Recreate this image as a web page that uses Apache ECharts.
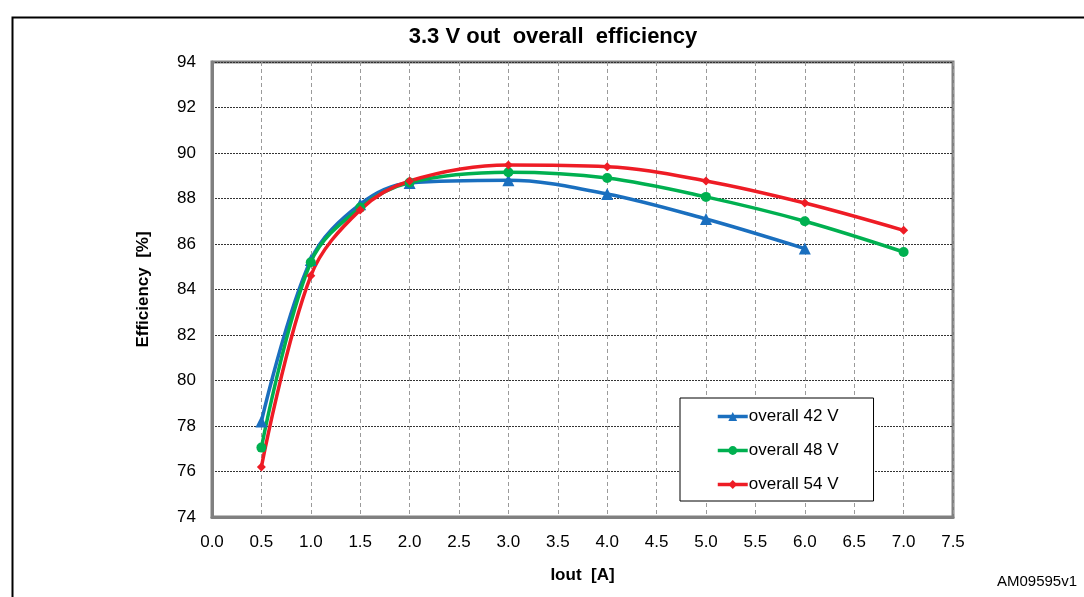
<!DOCTYPE html>
<html>
<head>
<meta charset="utf-8">
<script src="https://cdn.jsdelivr.net/npm/echarts@6/dist/echarts.min.js"></script>
<style>
html,body{margin:0;padding:0;background:#fff;}
#chart{width:1084px;height:597px;}
</style>
</head>
<body>
<div id="chart"></div>
<script>
const xTicks = [0.0,0.5,1.0,1.5,2.0,2.5,3.0,3.5,4.0,4.5,5.0,5.5,6.0,6.5,7.0,7.5];
const iout42 = [0.5,1.0,1.5,2.0,3.0,4.0,5.0,6.0];
const eff42  = [78.2,85.3,87.75,88.68,88.8,88.2,87.1,85.8];
const iout48 = [0.5,1.0,1.5,2.0,3.0,4.0,5.0,6.0,7.0];
const eff48  = [77.05,85.2,87.6,88.7,89.15,88.9,88.07,87.0,85.65];
const iout54 = [0.5,1.0,1.5,2.0,3.0,4.0,5.0,6.0,7.0];
const eff54  = [76.2,84.6,87.5,88.77,89.47,89.4,88.77,87.8,86.6];
const seriesNames = ['overall 42 V','overall 48 V','overall 54 V'];

const pair = (xs, ys) => xs.map((x, i) => [x, ys[i]]);
const font = 'Arial, "Liberation Sans", sans-serif';

const chart = echarts.init(document.getElementById('chart'), null, {renderer:'canvas'});
chart.setOption({
  animation: false,
  backgroundColor: '#fff',
  title: {
    text: '3.3 V out  overall  efficiency',
    left: 548, top: 21, textAlign: 'center',
    textStyle: {fontFamily: font, fontSize: 22, fontWeight: 'bold', color: '#000'}
  },
  graphic: [
    {type:'rect', left: 10, top: 15, shape:{width: 1090, height: 600}, style:{fill:'none', stroke:'#000', lineWidth: 2}, silent:true, z: -1},
    {type:'text', right: 7, top: 574, style:{text:'AM09595v1', font:'15px Arial, "Liberation Sans", sans-serif', fill:'#000'}}
  ],
  grid: {left: 212, right: 131, top: 62, bottom: 80, show: true, borderColor: '#808080', borderWidth: 3, backgroundColor:'transparent'},
  legend: {
    orient: 'vertical', left: 680, top: 398,
    data: seriesNames,
    backgroundColor: '#fff', borderColor: '#000', borderWidth: 1,
    padding: [10, 35, 8, 36], itemGap: 17, itemWidth: 30, itemHeight: 11,
    lineStyle: {width: 3.5},
    textStyle: {fontFamily: font, fontSize: 17, color: '#000', padding:[0,0,0,-4]}
  },
  xAxis: {
    type: 'value', min: 0, max: 7.5, interval: 0.5,
    name: 'Iout  [A]', nameLocation: 'middle', nameGap: 50,
    nameTextStyle: {fontFamily: font, fontSize: 17, fontWeight: 'bold', color: '#000'},
    axisLine: {show: true, onZero: false, lineStyle: {color: '#808080', width: 3}},
    axisTick: {show: false},
    axisLabel: {fontFamily: font, fontSize: 17, color: '#000', margin: 17, formatter: v => v.toFixed(1)},
    splitLine: {show: true, lineStyle: {color: '#9a9a9a', type: [4, 3], width: 1}}
  },
  yAxis: {
    type: 'value', min: 74, max: 94, interval: 2,
    name: 'Efficiency  [%]', nameLocation: 'middle', nameGap: 60,
    nameTextStyle: {fontFamily: font, fontSize: 17, fontWeight: 'bold', color: '#000'},
    axisLine: {show: true, lineStyle: {color: '#808080', width: 3}},
    axisTick: {show: false},
    axisLabel: {fontFamily: font, fontSize: 17, color: '#000', margin: 16},
    splitLine: {show: true, lineStyle: {color: '#333', type: [2, 1], width: 1}}
  },
  series: [
    {name: seriesNames[0], type: 'line', smooth: 0.35, data: pair(iout42, eff42),
     symbol: 'triangle', symbolSize: 12, color: '#1a6fbf',
     lineStyle: {width: 3.5, color: '#1a6fbf'}, itemStyle: {color: '#1a6fbf'}},
    {name: seriesNames[1], type: 'line', smooth: 0.35, data: pair(iout48, eff48),
     symbol: 'circle', symbolSize: 10, color: '#00b050',
     lineStyle: {width: 3.5, color: '#00b050'}, itemStyle: {color: '#00b050'}},
    {name: seriesNames[2], type: 'line', smooth: 0.35, data: pair(iout54, eff54),
     symbol: 'diamond', symbolSize: 9, color: '#ee1c25',
     lineStyle: {width: 3.5, color: '#ee1c25'}, itemStyle: {color: '#ee1c25'}}
  ]
});
</script>
</body>
</html>
